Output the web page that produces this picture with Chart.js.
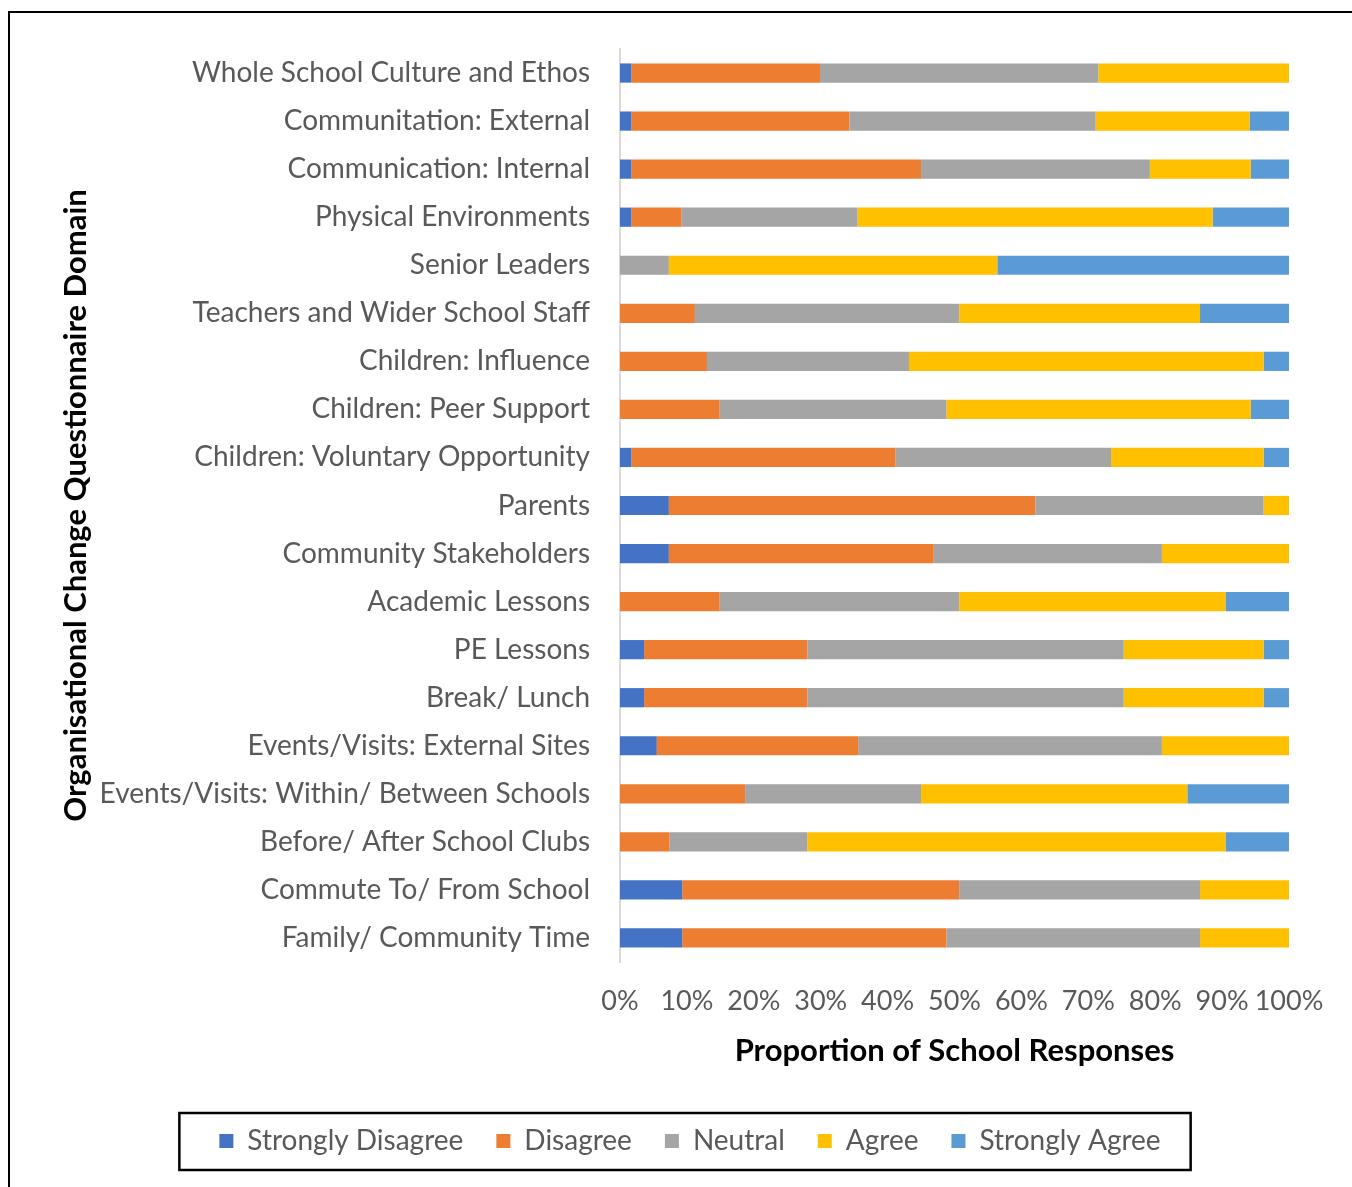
<!DOCTYPE html>
<html>
<head>
<meta charset="utf-8">
<script src="https://cdn.jsdelivr.net/npm/chart.js@4.4.1/dist/chart.umd.min.js"></script>
<style>
  html, body { margin: 0; padding: 0; background: #fff; overflow: hidden; }
  #wrap { position: relative; width: 1352px; height: 1187px; }
  #frame { position: absolute; left: 8px; top: 11px; width: 1500px; height: 1400px; border: 2px solid #000; pointer-events: none; }
  canvas { position: absolute; left: 0; top: 0; }
</style>
</head>
<body>
<div id="wrap">
  <canvas id="chart" width="1352" height="1187"></canvas>
  <div id="frame"></div>
</div>
<script>
const domains = [
  'Whole School Culture and Ethos',
  'Communitation: External',
  'Communication: Internal',
  'Physical Environments',
  'Senior Leaders',
  'Teachers and Wider School Staff',
  'Children: Influence',
  'Children: Peer Support',
  'Children: Voluntary Opportunity',
  'Parents',
  'Community Stakeholders',
  'Academic Lessons',
  'PE Lessons',
  'Break/ Lunch',
  'Events/Visits: External Sites',
  'Events/Visits: Within/ Between Schools',
  'Before/ After School Clubs',
  'Commute To/ From School',
  'Family/ Community Time'
];

// percent of school responses
const stronglyDisagree = [1.7, 1.7, 1.7, 1.7, 0, 0, 0, 0, 1.7, 7.3, 7.3, 0, 3.6, 3.6, 5.5, 0, 0, 9.3, 9.3];
const disagree = [28.2, 32.6, 43.3, 7.5, 0, 11.2, 13.0, 14.9, 39.5, 54.8, 39.6, 14.9, 24.4, 24.4, 30.1, 18.7, 7.4, 41.4, 39.5];
const neutral = [41.6, 36.8, 34.2, 26.3, 7.3, 39.5, 30.2, 33.9, 32.2, 34.1, 34.1, 35.8, 47.3, 47.3, 45.4, 26.3, 20.6, 36.0, 37.9];
const agree = [28.5, 23.0, 15.1, 53.1, 49.1, 36.0, 53.0, 45.5, 22.8, 3.8, 19.0, 39.8, 20.9, 20.9, 19.0, 39.8, 62.5, 13.3, 13.3];
const stronglyAgree = [0, 5.9, 5.7, 11.4, 43.6, 13.3, 3.8, 5.7, 3.8, 0, 0, 9.5, 3.8, 3.8, 0, 15.2, 9.5, 0, 0];

const seriesNames = ['Strongly Disagree', 'Disagree', 'Neutral', 'Agree', 'Strongly Agree'];
const seriesColors = ['#4472C4', '#ED7D31', '#A5A5A5', '#FFC000', '#5B9BD5'];
const seriesValues = [stronglyDisagree, disagree, neutral, agree, stronglyAgree];

Chart.defaults.font.family = "Lato, 'Open Sans', sans-serif";

// box around the legend, like the original
const legendFrame = {
  id: 'legendFrame',
  afterDraw(chart) {
    const boxes = chart.legend.legendHitBoxes;
    if (!boxes || !boxes.length) return;
    const first = boxes[0];
    const last = boxes[boxes.length - 1];
    const cy = first.top + first.height / 2;
    const ctx = chart.ctx;
    ctx.save();
    ctx.strokeStyle = '#000';
    ctx.lineWidth = 2.5;
    ctx.strokeRect(first.left - 40, cy - 28, last.left + last.width - first.left + 70, 57);
    ctx.restore();
  }
};

new Chart(document.getElementById('chart').getContext('2d'), {
  type: 'bar',
  data: {
    labels: domains,
    datasets: seriesNames.map((name, i) => ({
      label: name,
      data: seriesValues[i],
      backgroundColor: seriesColors[i],
      borderWidth: 0,
      barPercentage: 0.4,
      categoryPercentage: 1.0
    }))
  },
  options: {
    indexAxis: 'y',
    responsive: false,
    animation: false,
    layout: { padding: { left: 55, right: 27, top: 49, bottom: 22 } },
    scales: {
      x: {
        stacked: true,
        min: 0,
        max: 100,
        grid: { display: false, drawTicks: false },
        border: { display: false },
        ticks: {
          stepSize: 10,
          autoSkip: false,
          maxRotation: 0,
          minRotation: 0,
          padding: 23,
          color: '#595959',
          font: { size: 27 },
          callback: v => v + '%'
        },
        title: {
          display: true,
          text: 'Proportion of School Responses',
          color: '#000',
          font: { size: 31, weight: 'bold' },
          padding: { top: 4, bottom: 24 }
        },
        afterFit: s => { s.height = 132; s.paddingRight = 63; }
      },
      y: {
        stacked: true,
        grid: { display: false, drawTicks: false },
        border: { display: true, color: '#D9D9D9', width: 2 },
        ticks: {
          autoSkip: false,
          padding: 30,
          color: '#595959',
          font: { size: 28 }
        },
        title: {
          display: true,
          text: 'Organisational Change Questionnaire Domain',
          color: '#000',
          font: { size: 31, weight: 'bold' },
          padding: { top: 2, bottom: 4 }
        },
        afterFit: s => { s.width = 565; }
      }
    },
    plugins: {
      legend: {
        position: 'bottom',
        labels: {
          boxWidth: 14,
          boxHeight: 14,
          padding: 33,
          color: '#595959',
          font: { size: 28 }
        }
      },
      tooltip: { enabled: false }
    }
  },
  plugins: [legendFrame]
});
</script>
</body>
</html>
